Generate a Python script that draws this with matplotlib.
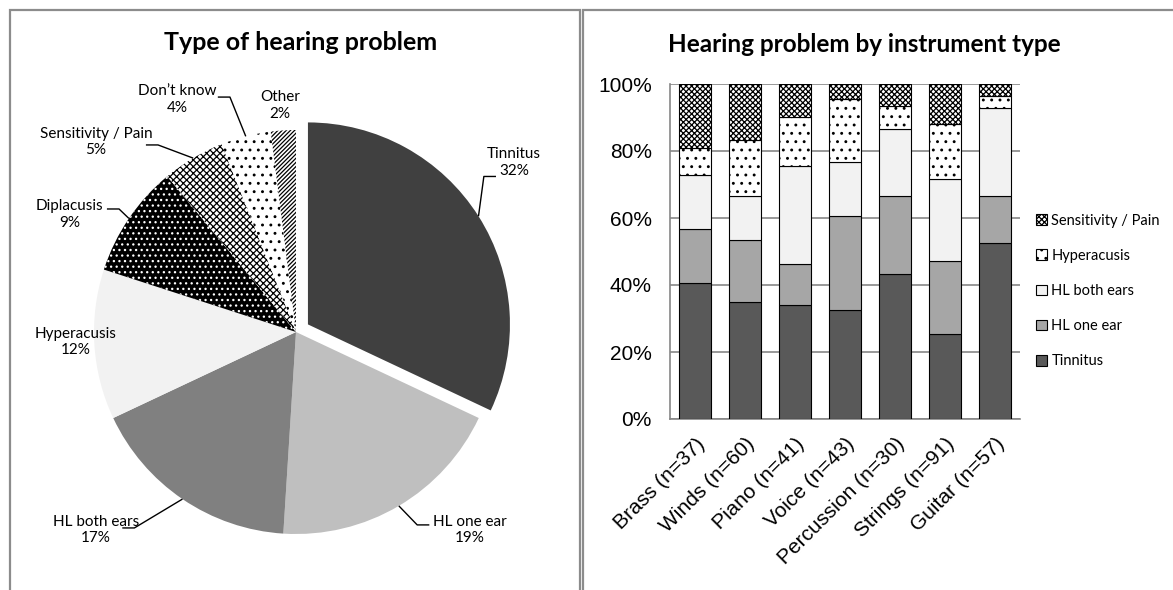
import numpy as np
import matplotlib.pyplot as plt
from matplotlib.patches import Rectangle

W, H = 1173, 590

# ---- data -------------------------------------------------------------
pie_labels = ['Tinnitus', 'HL one ear', 'HL both ears', 'Hyperacusis',
              'Diplacusis', 'Sensitivity / Pain', 'Don\u2019t know', 'Other']
pie_pct = [32, 19, 17, 12, 9, 5, 4, 2]

instruments = ['Brass (n=37)', 'Winds (n=60)', 'Piano (n=41)', 'Voice (n=43)',
               'Percussion (n=30)', 'Strings (n=91)', 'Guitar (n=57)']
tinnitus = [40.5, 35.0, 34.1, 32.6, 43.3, 25.3, 52.6]
hl_one_ear = [16.2, 18.3, 12.2, 27.9, 23.3, 22.0, 14.0]
hl_both_ears = [16.2, 13.3, 29.3, 16.3, 20.0, 24.2, 26.3]
hyperacusis = [8.1, 16.7, 14.6, 18.6, 6.7, 16.5, 3.5]
sensitivity = [18.9, 16.7, 9.8, 4.7, 6.7, 12.1, 3.5]

# ---- styles -----------------------------------------------------------
pie_face = ['#404040', '#bfbfbf', '#808080', '#f2f2f2', 'black', 'white', 'white', 'white']
pie_hatch = [None, None, None, None, '...', 'xxxxx', '..', '////////']
pie_hcol = ['#404040', '#bfbfbf', '#808080', '#f2f2f2', 'white', 'black', 'black', 'black']
pie_explode = [0.07, 0, 0, 0, 0, 0, 0, 0]

# label centres and leader elbows in pie units (radius = 1)
label_xy = [(1.08, 0.84), (0.86, -0.98), (-0.99, -0.98), (-1.09, -0.05),
            (-1.12, 0.58), (-0.99, 0.94), (-0.59, 1.15), (-0.08, 1.12)]
elbow_xy = [(0.93, 0.77), (0.60, -0.955), (-0.80, -0.97), None,
            (-0.876, 0.609), (-0.683, 0.926), (-0.327, 1.163), None]

label_font = ['Lato', 'DejaVu Sans']
axis_font = ['Liberation Sans', 'DejaVu Sans']
border = '#8c8c8c'
plt.rcParams['hatch.linewidth'] = 0.9


def box(x0, y0, x1, y1):
    return [x0 / W, 1 - y1 / H, (x1 - x0) / W, (y1 - y0) / H]


fig = plt.figure(figsize=(W / 100, H / 100), dpi=100)

# panel frames
for x0, x1 in [(10, 580), (583, 1200)]:
    fig.patches.append(Rectangle((x0 / W, -0.1), (x1 - x0) / W, 1.1 - 10 / H,
                                 transform=fig.transFigure, fill=False,
                                 edgecolor=border, lw=1.6))

# ---- pie ----------------------------------------------------------------
cx, cy, R = 296, 332, 202
ax = fig.add_axes(box(10, 10, 580, 590))
wedges, _ = ax.pie(pie_pct, explode=pie_explode, startangle=90, counterclock=False,
                   radius=1, wedgeprops=dict(linewidth=0))
for w, fc, hc, ht in zip(wedges, pie_face, pie_hcol, pie_hatch):
    w.set_facecolor(fc)
    w.set_edgecolor(hc)
    if ht:
        w.set_hatch(ht)
ax.set_aspect('auto')
ax.set_xlim((10 - cx) / R, (580 - cx) / R)
ax.set_ylim((cy - 590) / R, (cy - 10) / R)
ax.axis('off')

for w, name, pct, (lx, ly), elb in zip(wedges, pie_labels, pie_pct, label_xy, elbow_xy):
    ax.text(lx, ly, f'{name}\n{pct}%', ha='center', va='center', fontsize=11,
            family=label_font, linespacing=1.25)
    if elb is None:
        continue
    mid = np.deg2rad((w.theta1 + w.theta2) / 2)
    rx = w.center[0] + w.r * np.cos(mid)
    ry = w.center[1] + w.r * np.sin(mid)
    side = 1 if elb[0] < lx else -1
    ex = elb[0] + side * 0.06
    ax.plot([rx, elb[0], ex], [ry, elb[1], elb[1]], color='black', lw=1.0,
            solid_capstyle='butt')

fig.text(301 / W, 1 - 42 / H, 'Type of hearing problem', ha='center', va='center',
         fontsize=18, fontweight='bold', family=label_font)

# ---- stacked bars -------------------------------------------------------
bx = fig.add_axes(box(670, 84, 1020, 419))
x = np.arange(len(instruments))
series = [
    ('Tinnitus', tinnitus, '#595959', None),
    ('HL one ear', hl_one_ear, '#a6a6a6', None),
    ('HL both ears', hl_both_ears, '#f2f2f2', None),
    ('Hyperacusis', hyperacusis, 'white', '..'),
    ('Sensitivity / Pain', sensitivity, 'white', 'xxxxxx'),
]
bottom = np.zeros(len(instruments))
handles = []
for name, vals, fc, ht in series:
    b = bx.bar(x, vals, 0.64, bottom=bottom, color=fc, edgecolor='black',
               linewidth=0.8, hatch=ht, label=name, zorder=3)
    handles.append(b)
    bottom += np.array(vals)

bx.set_xlim(-0.5, len(instruments) - 0.5)
bx.set_ylim(0, 100)
bx.set_yticks(range(0, 101, 20))
bx.set_yticklabels([f'{v}%' for v in range(0, 101, 20)], fontsize=15, family=axis_font)
bx.set_xticks(x)
bx.set_xticklabels(instruments, rotation=45, ha='right', va='top',
                   rotation_mode='anchor', fontsize=15, family=axis_font)
bx.tick_params(length=0, pad=11)
bx.tick_params(axis='y', pad=13)
bx.grid(axis='y', color='#868686', lw=1.2, zorder=0)
for s in ['top', 'right']:
    bx.spines[s].set_visible(False)
for s in ['left', 'bottom']:
    bx.spines[s].set_color('#868686')
    bx.spines[s].set_linewidth(1.2)

leg = fig.legend(handles[::-1], [s[0] for s in series][::-1], loc='center left',
                 bbox_to_anchor=(1036 / W, 1 - 291 / H), frameon=False,
                 borderpad=0, borderaxespad=0,
                 prop={'family': label_font, 'size': 10.5}, handlelength=0.75,
                 handleheight=0.75, handletextpad=0.3, labelspacing=1.45)

fig.text(668 / W, 1 - 44 / H, 'Hearing problem by instrument type', ha='left',
         va='center', fontsize=17.5, fontweight='bold', family=label_font)

fig.savefig('out.png', dpi=100)
